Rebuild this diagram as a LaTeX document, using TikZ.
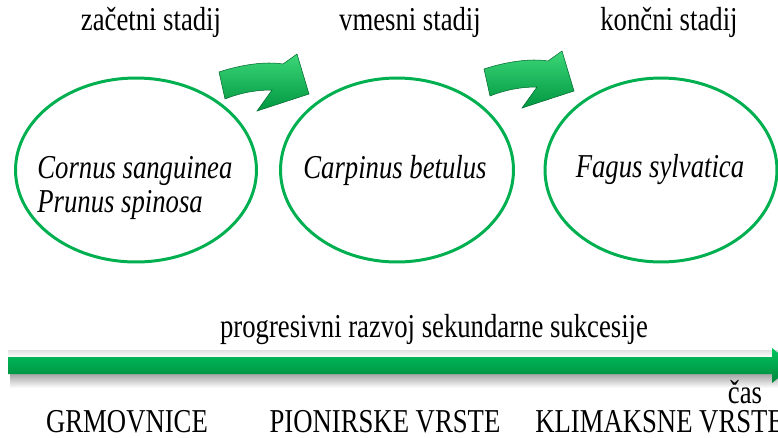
\documentclass[tikz,border=0pt]{standalone}
\usepackage{fontspec}
\setmainfont{Liberation Serif}[FakeStretch=0.8]
\usetikzlibrary{shapes.geometric}
\definecolor{rimgreen}{RGB}{0,176,80}
\definecolor{arrowlight}{RGB}{60,215,120}
\definecolor{arrowdark}{RGB}{0,150,65}
\definecolor{barlight}{RGB}{0,196,95}
\definecolor{bardark}{RGB}{0,135,60}

\begin{document}
\begin{tikzpicture}[
    x=0.02cm, y=-0.02cm,
    stage/.style={ellipse,draw=rimgreen,line width=1.7pt,minimum height=3.68cm},
    lbl/.style={inner sep=0pt,font=\fontsize{19}{23}\selectfont},
    species/.style={inner sep=0pt,font=\fontsize{19}{18.8}\selectfont\itshape,align=left},
    stagearrow/.pic={
        \shade[top color=arrowlight,bottom color=arrowdark,draw=arrowdark!70!black,line width=0.3pt]
            (0,0) .. controls (21,-7) and (46,-11) .. (64,-8) -- (78,-18) -- (90,22)
            -- (38,39) -- (53,18) .. controls (36,18) and (21,21) .. (6,27) -- cycle;
    },
]

\useasboundingbox (0,0) rectangle (778,437);
\clip (0,0) rectangle (778,437);

% Define nodes
\node[stage,minimum width=4.82cm] (E1) at (136,170) {};
\node[stage,minimum width=4.66cm] (E2) at (397,170) {};
\node[stage,minimum width=4.64cm] (E3) at (661,170) {};

\node[lbl] (s1) at (151,22) {začetni stadij};
\node[lbl] (s2) at (410,22) {vmesni stadij};
\node[lbl] (s3) at (669,22) {končni stadij};

\node[species,anchor=west] (sp1) at (37,188) {Cornus sanguinea\\Prunus spinosa};
\node[species] (sp2) at (395,170) {Carpinus betulus};
\node[species] (sp3) at (660,170) {Fagus sylvatica};

% Draw stage arrows
\pic at (219,72) {stagearrow};
\pic at (484,69) {stagearrow};

% Draw time arrow
\shade[top color=black!12,bottom color=white] (8,350) rectangle (778,357);
\shade[top color=black!35,bottom color=white] (10,374) rectangle (778,388);
\shade[top color=barlight,bottom color=bardark]
    (8,357) -- (772,357) -- (772,348) -- (794,365.5) -- (772,383) -- (772,374) -- (8,374) -- cycle;

\node[lbl] (prog) at (434,330) {progresivni razvoj sekundarne sukcesije};
\node[lbl] (cas) at (745,392) {čas};

\node[lbl] (g1) at (127,422) {GRMOVNICE};
\node[lbl] (g2) at (385,422) {PIONIRSKE VRSTE};
\node[lbl,anchor=west] (g3) at (535,422) {KLIMAKSNE VRSTE};

\end{tikzpicture}
\end{document}
